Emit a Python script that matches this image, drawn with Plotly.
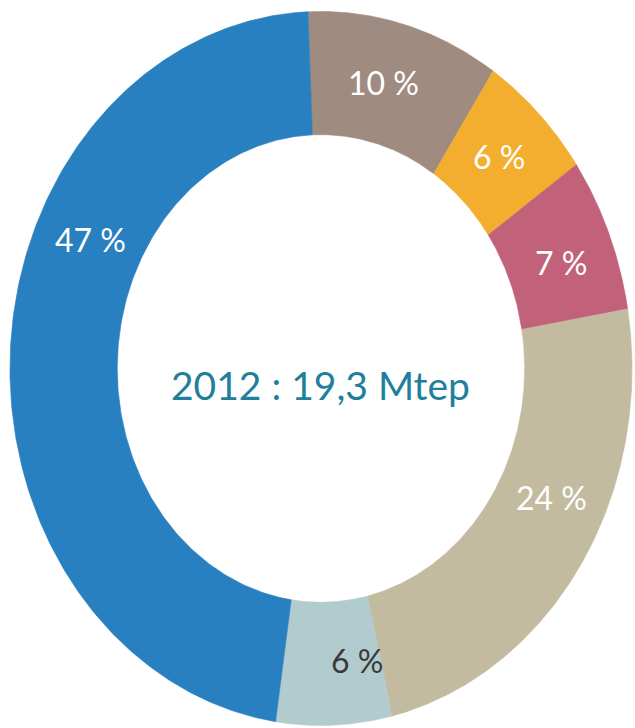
import numpy as np
import plotly.graph_objects as go

# Répartition de la consommation d'énergie, 2012 (%), slices clockwise from the top
labels = ["10 %", "6 %", "7 %", "24 %", "6 %", "47 %"]
shares = [10, 6, 7, 24, 6, 47]
colors = ["#a08b80", "#f3ad2f", "#c1627a", "#c3bb9f", "#b1cbcf", "#2880c1"]
label_colors = ["white", "white", "white", "white", "#3a3a3a", "white"]
center_title = "2012 : 19,3 Mtep"

# Ring geometry (normalised units; outer radius = 1)
R_OUT, R_IN = 1.0, 0.655
START_DEG = -2.4
LABEL_R = 0.825
label_angles = [14, 44, 69, 116, 172, 296]

fig = go.Figure()

bounds = START_DEG + 3.6 * np.concatenate([[0], np.cumsum(shares)])
for i, share in enumerate(shares):
    a = np.radians(np.linspace(bounds[i], bounds[i + 1], 240))
    xs = np.concatenate([R_OUT * np.sin(a), R_IN * np.sin(a[::-1])])
    ys = np.concatenate([R_OUT * np.cos(a), R_IN * np.cos(a[::-1])])
    fig.add_trace(go.Scatter(
        x=np.append(xs, xs[0]), y=np.append(ys, ys[0]),
        mode="lines", fill="toself", fillcolor=colors[i],
        line=dict(width=0.6, color=colors[i]),
        hoverinfo="text", text=f"{share} %", showlegend=False,
    ))

for lab, ang, col in zip(labels, label_angles, label_colors):
    t = np.radians(ang)
    fig.add_annotation(
        x=LABEL_R * np.sin(t), y=LABEL_R * np.cos(t), text=lab,
        showarrow=False, xanchor="center", yanchor="middle",
        font=dict(family="Lato, 'Open Sans', sans-serif", size=32, color=col),
    )

fig.add_annotation(
    x=0, y=-0.045, text=center_title, showarrow=False,
    xanchor="center", yanchor="middle",
    font=dict(family="Lato, sans-serif", size=39, color="#227f9c"),
)

fig.update_layout(
    width=635, height=728,
    margin=dict(l=0, r=0, t=0, b=0),
    paper_bgcolor="white", plot_bgcolor="white",
    xaxis=dict(range=[-1.032, 1.0096], visible=False, fixedrange=True),
    yaxis=dict(range=[-1.007, 1.032], visible=False, fixedrange=True),
    showlegend=False,
)

fig.write_html("out.html")
